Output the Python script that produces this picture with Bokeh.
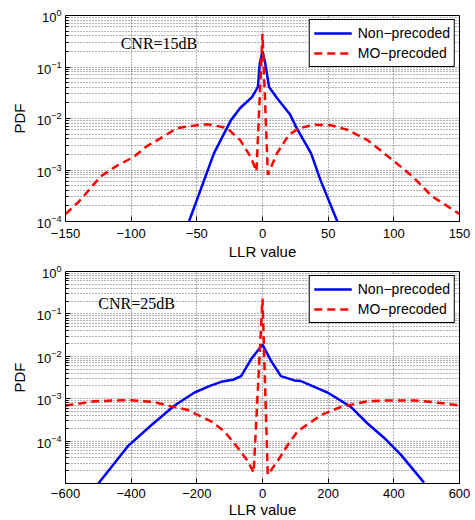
from bokeh.plotting import figure
from bokeh.models import (FixedTicker, Legend, LegendItem,
                          Label, Range1d, CustomJSTickFormatter)
from bokeh.layouts import column
from bokeh.embed import file_html
from bokeh.resources import INLINE

# ---------------- data ----------------
# CNR = 15 dB
llr15_non = [-56, -47, -37, -24, -17, -8, -3.5, -2, 0, 2, 5, 11, 21, 26, 37, 44, 57]
pdf15_non = [1e-4, 4.2e-4, 2.1e-3, 9.3e-3, 1.6e-2, 2.6e-2, 4.1e-2, 0.12, 0.2,
             0.12, 4.1e-2, 2.5e-2, 1.2e-2, 6.5e-3, 2.1e-3, 6.5e-4, 1e-4]
llr15_mo = [-150, -140, -123, -111, -98, -88, -80, -65, -50, -42, -35, -27, -17, -9,
            -4.6, 0, 4.1, 11, 20, 28, 40, 52, 65, 80, 96, 114, 129, 150]
pdf15_mo = [1.4e-4, 2.4e-4, 7.6e-4, 1.2e-3, 1.8e-3, 2.9e-3, 3.8e-3, 6.5e-3, 7.4e-3,
            7.7e-3, 7.2e-3, 6.5e-3, 3.8e-3, 1.8e-3, 9.4e-4, 0.44, 8.1e-4, 2.1e-3,
            4.8e-3, 6.5e-3, 7.6e-3, 7.4e-3, 6.0e-3, 3.8e-3, 1.8e-3, 7.6e-4, 3.1e-4, 1.4e-4]

# CNR = 25 dB
llr25_non = [-500, -410, -338, -268, -207, -160, -126, -90, -65, -35, 0, 26, 56, 97,
             117, 172, 198, 269, 320, 370, 421, 492]
pdf25_non = [1e-5, 7.6e-5, 2.4e-4, 6.9e-4, 1.4e-3, 2.0e-3, 2.5e-3, 2.8e-3, 3.4e-3,
             8.5e-3, 1.9e-2, 7.8e-3, 3.4e-3, 2.7e-3, 2.6e-3, 1.7e-3, 1.4e-3, 6.4e-4,
             2.6e-4, 1.2e-4, 4.8e-5, 1.05e-5]
llr25_mo = [-600, -511, -410, -329, -278, -227, -156, -116, -75, -45, -27, 0, 16, 46,
            77, 107, 178, 239, 320, 380, 461, 522, 600]
pdf25_mo = [6.9e-4, 8.7e-4, 9.3e-4, 8.3e-4, 6.6e-4, 5.4e-4, 2.9e-4, 1.7e-4, 6.9e-5,
            3.4e-5, 1.8e-5, 0.23, 1.6e-5, 3.4e-5, 8.1e-5, 1.7e-4, 4.1e-4, 6.4e-4,
            8.7e-4, 9.1e-4, 9.1e-4, 8.3e-4, 6.9e-4]

x_ticks_15 = [-150, -100, -50, 0, 50, 100, 150]
x_ticks_25 = [-600, -400, -200, 0, 200, 400, 600]
y_ticks = [1e-4, 1e-3, 1e-2, 1e-1, 1]
series_names = ["Non\u2212precoded", "MO\u2212precoded"]
cnr_texts = ["CNR=15dB", "CNR=25dB"]

SANS = "Liberation Sans"
SERIF = "Liberation Serif"


def minor_list(lo_exp, hi_exp):
    out = []
    for e in range(lo_exp, hi_exp):
        for m in range(2, 10):
            out.append(m * 10.0 ** e)
    return out


xfmt = CustomJSTickFormatter(code="""
    return tick < 0 ? "\\u2212" + Math.abs(tick) : String(tick);
""")


def make_plot(xr, yr, xt, lo_exp, xs_non, ys_non, xs_mo, ys_mo, cnr, cnr_pos,
              height, b_top, b_bottom, xstand, xlstand):
    p = figure(width=475, height=height, y_axis_type="log",
               x_range=Range1d(*xr), y_range=Range1d(*yr),
               output_backend="svg", toolbar_location=None,
               min_border_left=65, min_border_right=16,
               min_border_top=b_top, min_border_bottom=b_bottom)
    p.outline_line_color = "black"
    p.outline_line_width = 1
    p.background_fill_color = "white"
    p.border_fill_color = "white"

    yticker = FixedTicker(ticks=y_ticks, minor_ticks=minor_list(lo_exp, 0))
    xticker = FixedTicker(ticks=xt)

    p.xaxis.ticker = xticker
    p.yaxis.ticker = yticker
    p.xaxis.formatter = xfmt

    for ax in (p.xaxis[0], p.yaxis[0]):
        ax.major_tick_in = 5
        ax.major_tick_out = 0
        ax.minor_tick_in = 3
        ax.minor_tick_out = 0
        ax.axis_line_color = "black"
        ax.major_tick_line_color = "black"
        ax.major_label_text_font = SANS
        ax.major_label_text_font_size = "13px"
        ax.major_label_text_color = "black"
        ax.axis_label_text_font = SANS
        ax.axis_label_text_font_size = "15px"
        ax.axis_label_text_font_style = "normal"
        ax.axis_label_text_color = "black"
    p.xaxis.minor_tick_line_color = None
    p.xaxis.axis_label = "LLR value"
    p.xaxis.major_label_standoff = xstand
    p.xaxis.axis_label_standoff = xlstand
    p.yaxis.axis_label = "PDF"
    p.yaxis.major_label_standoff = 4
    p.yaxis.axis_label_standoff = 6

    p.xgrid.ticker = xticker
    p.ygrid.ticker = yticker
    for g in (p.xgrid[0], p.ygrid[0]):
        g.grid_line_color = "#222222"
        g.grid_line_alpha = 0.7
        g.grid_line_dash = "1 2"
        g.grid_line_width = 1
    p.ygrid.minor_grid_line_color = "#222222"
    p.ygrid.minor_grid_line_alpha = 0.7
    p.ygrid.minor_grid_line_dash = "1 2"

    r1 = p.line(xs_non, ys_non, line_color="#0000ff", line_width=2.5)
    r2 = p.line(xs_mo, ys_mo, line_color="#ff0000", line_width=2.5, line_dash="8 5")

    leg = Legend(items=[LegendItem(label=series_names[0], renderers=[r1]),
                        LegendItem(label=series_names[1], renderers=[r2])],
                 location="top_right")
    leg.border_line_color = "black"
    leg.border_line_width = 1
    leg.border_line_alpha = 1
    leg.background_fill_alpha = 1
    leg.label_text_font = SANS
    leg.label_text_font_size = "14px"
    leg.label_text_color = "black"
    leg.glyph_width = 38
    leg.glyph_height = 18
    leg.label_height = 18
    leg.spacing = 2
    leg.padding = 4
    leg.margin = 4
    leg.label_standoff = 6
    p.add_layout(leg)

    p.add_layout(Label(x=cnr_pos[0], y=cnr_pos[1], text=cnr, text_font=SERIF,
                       text_font_size="16px", text_color="black",
                       text_baseline="middle", text_align="left"))
    return p


p1 = make_plot((-150, 150), (1e-4, 1), x_ticks_15, -4, llr15_non, pdf15_non,
               llr15_mo, pdf15_mo, cnr_texts[0], (-108, 0.29),
               height=262, b_top=15, b_bottom=40, xstand=7, xlstand=2)
p2 = make_plot((-600, 600), (1e-5, 1), x_ticks_25, -5, llr25_non, pdf25_non,
               llr25_mo, pdf25_mo, cnr_texts[1], (-500, 0.18),
               height=258, b_top=9, b_bottom=34, xstand=5, xlstand=0)

layout = column(p1, p2, spacing=0)
open("out.html", "w").write(file_html(layout, INLINE))
